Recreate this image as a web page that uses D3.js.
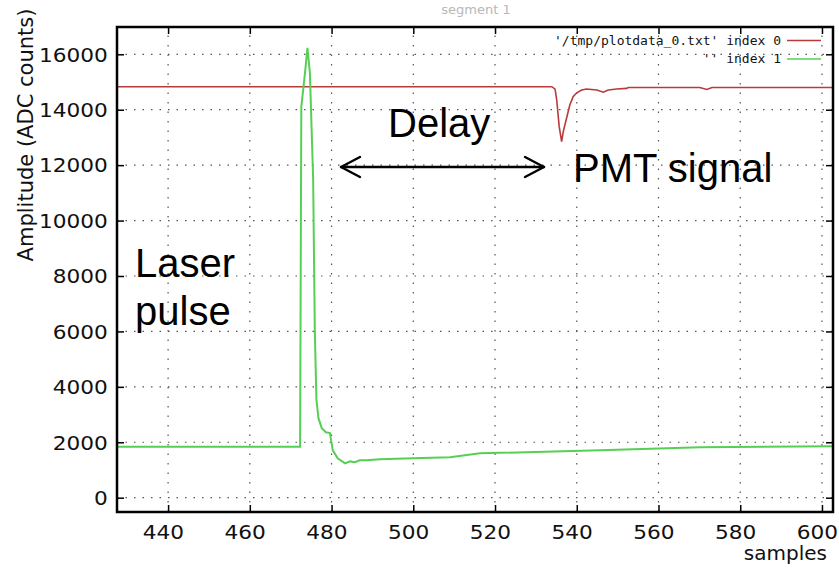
<!DOCTYPE html>
<html>
<head>
<meta charset="utf-8">
<script src="https://cdn.jsdelivr.net/npm/d3@7"></script>
<style>
  body { margin: 0; background: #fff; }
  svg { display: block; }
</style>
</head>
<body>
<div id="graph"></div>
<script>
// tick values
const xTicks = [440, 460, 480, 500, 520, 540, 560, 580, 600];
const yTicks = [0, 2000, 4000, 6000, 8000, 10000, 12000, 14000, 16000];

// index 0 : PMT signal (red)
const pmtX = [427.5, 533.9, 534.7, 535.1, 535.7, 536.3, 536.7, 537.5, 538.3, 539.1, 540.0, 541.2, 542.4, 544.9, 546.5, 547.7, 549.8, 552.2, 552.6, 570.1, 571.8, 573.1, 602.7];
const pmtY = [14830, 14830, 14740, 14350, 13390, 12850, 13210, 13690, 14170, 14470, 14610, 14710, 14750, 14710, 14630, 14710, 14750, 14770, 14800, 14800, 14730, 14800, 14800];

// index 1 : laser pulse (green)
const laserX = [427.5, 472.3, 472.6, 473.5, 474.1, 474.7, 475.25, 475.5, 475.9, 476.3, 476.8, 477.6, 478.6, 479.6, 480.3, 481.5, 483.3, 484.5, 485.7, 486.9, 488.6, 491.8, 499.9, 509.0, 516.3, 545.7, 570.2, 602.7];
const laserY = [1840, 1840, 14100, 15330, 16230, 15330, 12670, 11470, 6050, 3520, 2870, 2510, 2360, 2330, 1710, 1420, 1240, 1310, 1280, 1350, 1350, 1390, 1420, 1460, 1600, 1710, 1820, 1860];

const legendLabels = ["'/tmp/plotdata_0.txt' index 0", "'' index 1"];
const seriesColors = ["#b83a3a", "#55d055"];

const W = 839, H = 570;
const pLeft = 117, pTop = 27, pRight = 833, pBottom = 512;

const svg = d3.select("#graph").append("svg")
  .attr("width", W).attr("height", H);

const x = d3.scaleLinear().domain([427.5, 602.7]).range([pLeft, pRight]);
const y = d3.scaleLinear().domain([-516, 16985]).range([pBottom, pTop]);

// faint cut-off title
svg.append("text")
  .attr("x", 476).attr("y", 14)
  .attr("text-anchor", "middle")
  .style("font-family", "DejaVu Sans").style("font-size", "13px")
  .style("fill", "#b8b8b8")
  .text("segment 1");

// grid
const grid = svg.append("g").attr("class", "grid");
grid.selectAll(".vg").data(xTicks).enter().append("line")
  .attr("x1", d => x(d)).attr("x2", d => x(d))
  .attr("y1", pBottom).attr("y2", pTop)
  .attr("stroke", "#555").attr("stroke-width", 1.2)
  .attr("stroke-dasharray", "1.5,8");
grid.selectAll(".hg").data(yTicks).enter().append("line")
  .attr("x1", pLeft).attr("x2", pRight)
  .attr("y1", d => y(d)).attr("y2", d => y(d))
  .attr("stroke", "#555").attr("stroke-width", 1.2)
  .attr("stroke-dasharray", "1.5,7");

// axes
const tickFont = g => g.selectAll("text")
  .style("font-family", "DejaVu Sans").style("font-size", "19px")
  .style("fill", "#111");

const xAxis = svg.append("g")
  .attr("transform", "translate(0," + pBottom + ")")
  .call(d3.axisBottom(x).tickValues(xTicks).tickFormat(d3.format("d")).tickSize(-7).tickPadding(0));
xAxis.call(tickFont);
xAxis.selectAll("text").attr("x", -4.5).attr("y", 27).attr("dy", 0)
  .attr("transform", "scale(1.14,1)");

const yAxis = svg.append("g")
  .attr("transform", "translate(" + pLeft + ",0)")
  .call(d3.axisLeft(y).tickValues(yTicks).tickFormat(d3.format("d")).tickSize(-7).tickPadding(8));
yAxis.call(tickFont);
yAxis.selectAll("text").attr("dy", "0.36em").attr("transform", "scale(1.14,1)");

svg.append("g")
  .attr("transform", "translate(0," + pTop + ")")
  .call(d3.axisTop(x).tickValues(xTicks).tickSize(-7).tickFormat(""));
svg.append("g")
  .attr("transform", "translate(" + pRight + ",0)")
  .call(d3.axisRight(y).tickValues(yTicks).tickSize(-7).tickFormat(""));

svg.selectAll(".domain").remove();
svg.selectAll(".tick line").attr("stroke", "#000").attr("stroke-width", 1.5);

// series
const line = d3.line().x(d => x(d[0])).y(d => y(d[1]));
const pmt = pmtX.map((v, i) => [v, pmtY[i]]);
const laser = laserX.map((v, i) => [v, laserY[i]]);

svg.append("path").datum(pmt)
  .attr("d", line).attr("fill", "none")
  .attr("stroke", seriesColors[0]).attr("stroke-width", 1.6);
svg.append("path").datum(laser)
  .attr("d", line).attr("fill", "none")
  .attr("stroke", seriesColors[1]).attr("stroke-width", 2);

// frame
svg.append("rect")
  .attr("x", pLeft).attr("y", pTop)
  .attr("width", pRight - pLeft).attr("height", pBottom - pTop)
  .attr("fill", "none").attr("stroke", "#000").attr("stroke-width", 2.5);

// legend
const legend = svg.append("g");
legendLabels.forEach((t, i) => {
  legend.append("text")
    .attr("x", 781).attr("y", 44.5 + i * 18.5)
    .attr("text-anchor", "end")
    .style("font-family", "DejaVu Sans Mono").style("font-size", "13px")
    .style("fill", "#111")
    .text(t);
  legend.append("line")
    .attr("x1", 787).attr("x2", 821)
    .attr("y1", 40.5 + i * 18.5).attr("y2", 40.5 + i * 18.5)
    .attr("stroke", seriesColors[i]).attr("stroke-width", 1.6);
});

// axis titles
svg.append("text")
  .attr("transform", "translate(33,135) rotate(-90)")
  .attr("text-anchor", "middle")
  .style("font-family", "DejaVu Sans").style("font-size", "21px")
  .style("fill", "#111")
  .text("Amplitude (ADC counts)");
svg.append("text")
  .attr("x", 827).attr("y", 560)
  .attr("text-anchor", "end")
  .style("font-family", "DejaVu Sans").style("font-size", "20px")
  .style("fill", "#111")
  .text("samples");

// annotations
const note = (tx, ty, t) => svg.append("text")
  .attr("x", tx).attr("y", ty)
  .style("font-family", "Liberation Sans").style("font-size", "40px")
  .style("fill", "#000")
  .text(t);
note(388, 137, "Delay");
note(573, 182, "PMT signal");
note(135, 277, "Laser");
note(135, 325, "pulse");

// delay arrow
const ay = 167;
const arrow = svg.append("g").attr("stroke", "#000").attr("stroke-width", 2.4)
  .attr("fill", "none").attr("stroke-linecap", "round").attr("stroke-linejoin", "round");
arrow.append("line").attr("x1", 341).attr("x2", 544).attr("y1", ay).attr("y2", ay);
arrow.append("polyline").attr("points", [[360, ay - 10], [341, ay], [360, ay + 10]].join(" "));
arrow.append("polyline").attr("points", [[525, ay - 10], [544, ay], [525, ay + 10]].join(" "));
</script>
</body>
</html>
